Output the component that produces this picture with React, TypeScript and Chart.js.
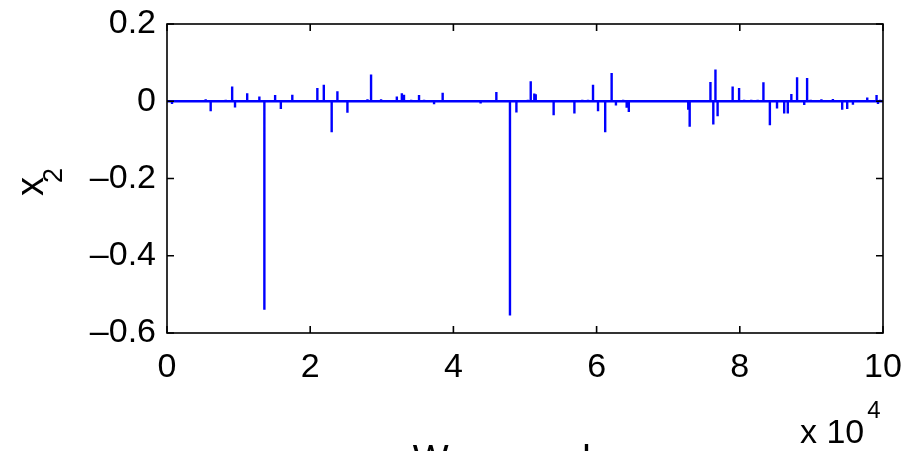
import React, { useEffect, useRef } from "react";
import { Chart, registerables } from "chart.js";

Chart.register(...registerables);

// sample position (x 10^4) of each non-zero entry and its value
const spikeX = [
  0.07, 0.54, 0.61, 0.82, 0.91, 0.95, 1.12, 1.29, 1.36, 1.51, 1.59, 1.69, 1.75,
  2.1, 2.19, 2.27, 2.3, 2.38, 2.52, 2.8, 2.85, 2.99, 3.13, 3.21, 3.28, 3.31,
  3.41, 3.52, 3.59, 3.73, 3.85, 4.38, 4.6, 4.79, 4.8, 4.88, 5.04, 5.08, 5.13,
  5.15, 5.4, 5.69, 5.8, 5.88, 5.95, 6.02, 6.12, 6.21, 6.27, 6.37, 6.42, 6.45,
  6.63, 6.73, 7.28, 7.3, 7.59, 7.63, 7.66, 7.69, 7.9, 7.99, 8.06, 8.16, 8.25,
  8.33, 8.42, 8.52, 8.62, 8.67, 8.72, 8.8, 8.9, 8.94, 8.99, 9.14, 9.3, 9.43,
  9.5, 9.58, 9.78, 9.82, 9.91, 9.93, 9.96,
];
const spikeY = [
  -0.007, 0.005, -0.026, 0.004, 0.038, -0.016, 0.021, 0.012, -0.54, 0.016,
  -0.02, -0.003, 0.017, 0.034, 0.043, -0.003, -0.08, 0.026, -0.03, 0.005,
  0.069, 0.005, -0.003, 0.012, 0.021, 0.017, 0.004, 0.016, 0.004, -0.008,
  0.022, -0.006, 0.024, -0.555, 0.003, -0.029, 0.004, 0.052, 0.02, 0.018,
  -0.036, -0.032, 0.004, 0.004, 0.043, -0.026, -0.08, 0.073, -0.011, 0.004,
  -0.017, -0.028, -0.003, 0.002, -0.022, -0.066, 0.05, -0.06, 0.082, -0.039,
  0.038, 0.034, 0.004, 0.004, 0.004, 0.049, -0.062, -0.019, -0.032, -0.032,
  0.019, 0.062, -0.01, 0.06, 0.004, 0.005, 0.006, -0.022, -0.02, -0.009, 0.01,
  0.003, 0.016, -0.007, 0.004,
];
const xTicks = [0, 2, 4, 6, 8, 10];
const yTicks = [-0.6, -0.4, -0.2, 0, 0.2];
const xMin = 0;
const xMax = 10;
const yMin = -0.6;
const yMax = 0.2;
const yLabelMain = "x";
const yLabelSub = "2";
const expBase = "x 10";
const expPow = "4";
const xTitle = "Wavenumber";

const FONT = "'Liberation Sans', Arial, Helvetica, sans-serif";

function fmt(v: number): string {
  const r = Math.round(v * 10) / 10;
  if (r === 0) return "0";
  if (Number.isInteger(r)) return String(r);
  return (r < 0 ? "\u2013" : "") + Math.abs(r).toFixed(1);
}

export default function App() {
  const ref = useRef<HTMLCanvasElement | null>(null);

  useEffect(() => {
    if (!ref.current) return;
    const pts: { x: number; y: number }[] = [{ x: xMin, y: 0 }];
    spikeX.forEach((x, i) => {
      pts.push({ x, y: 0 }, { x, y: spikeY[i] }, { x, y: 0 });
    });
    pts.push({ x: xMax, y: 0 });

    const framePlugin = {
      id: "frame",
      afterDraw(chart: any) {
        const { ctx, chartArea } = chart;
        const { left, right, top, bottom } = chartArea;
        const xs = chart.scales.x;
        const ys = chart.scales.y;
        ctx.save();
        ctx.strokeStyle = "#000";
        ctx.lineWidth = 1.6;
        ctx.strokeRect(left, top, right - left, bottom - top);
        const tl = 7;
        ctx.beginPath();
        xTicks.forEach((t) => {
          const px = xs.getPixelForValue(t);
          ctx.moveTo(px, bottom);
          ctx.lineTo(px, bottom - tl);
          ctx.moveTo(px, top);
          ctx.lineTo(px, top + tl);
        });
        yTicks.forEach((t) => {
          const py = ys.getPixelForValue(t);
          ctx.moveTo(left, py);
          ctx.lineTo(left + tl, py);
          ctx.moveTo(right, py);
          ctx.lineTo(right - tl, py);
        });
        ctx.stroke();

        ctx.fillStyle = "#000";
        // y-axis title with subscript
        ctx.save();
        ctx.translate(43, 196);
        ctx.rotate(-Math.PI / 2);
        ctx.textAlign = "left";
        ctx.textBaseline = "alphabetic";
        ctx.font = `38px ${FONT}`;
        ctx.fillText(yLabelMain, 0, 0);
        const w = ctx.measureText(yLabelMain).width;
        ctx.font = `27px ${FONT}`;
        ctx.fillText(yLabelSub, w - 6, 19);
        ctx.restore();

        // exponent label
        ctx.textAlign = "left";
        ctx.textBaseline = "alphabetic";
        ctx.font = `34px ${FONT}`;
        ctx.fillText(expBase, 800, 443);
        const wb = ctx.measureText(expBase).width;
        ctx.font = `24px ${FONT}`;
        ctx.fillText(expPow, 800 + wb + 3, 418);

        // x-axis title (mostly below the visible area)
        ctx.textAlign = "center";
        ctx.font = `38px ${FONT}`;
        ctx.fillText(xTitle, (left + right) / 2, 472);
        ctx.restore();
      },
    };

    const chart = new Chart(ref.current, {
      type: "line",
      data: {
        datasets: [
          {
            data: pts,
            borderColor: "#0000ff",
            borderWidth: 2.4,
            pointRadius: 0,
            tension: 0,
            fill: false,
          },
        ],
      },
      options: {
        animation: false,
        responsive: true,
        maintainAspectRatio: false,
        layout: { padding: { left: 0, right: 31, top: 24, bottom: 0 } },
        plugins: { legend: { display: false }, tooltip: { enabled: false } },
        scales: {
          x: {
            type: "linear",
            min: xMin,
            max: xMax,
            afterFit: (s: any) => {
              s.height = 118;
              s.paddingLeft = 0;
              s.paddingRight = 0;
            },
            afterBuildTicks: (s: any) => {
              s.ticks = xTicks.map((v) => ({ value: v }));
            },
            grid: { display: false, drawTicks: false },
            border: { display: false },
            ticks: {
              padding: 14,
              color: "#000",
              font: { size: 34, family: FONT },
              maxRotation: 0,
              autoSkip: false,
              callback: (v: any) => fmt(Number(v)),
            },
          },
          y: {
            type: "linear",
            min: yMin,
            max: yMax,
            afterFit: (s: any) => {
              s.width = 167;
              s.paddingTop = 0;
              s.paddingBottom = 0;
            },
            afterBuildTicks: (s: any) => {
              s.ticks = yTicks.map((v) => ({ value: v }));
            },
            grid: { display: false, drawTicks: false },
            border: { display: false },
            ticks: {
              padding: 11,
              color: "#000",
              font: { size: 34, family: FONT },
              autoSkip: false,
              callback: (v: any) => fmt(Number(v)),
            },
          },
        },
      },
      plugins: [framePlugin],
    });
    return () => chart.destroy();
  }, []);

  return (
    <div
      style={{
        position: "fixed",
        left: 0,
        top: 0,
        width: 914,
        height: 451,
        background: "#fff",
      }}
    >
      <canvas ref={ref} />
    </div>
  );
}
